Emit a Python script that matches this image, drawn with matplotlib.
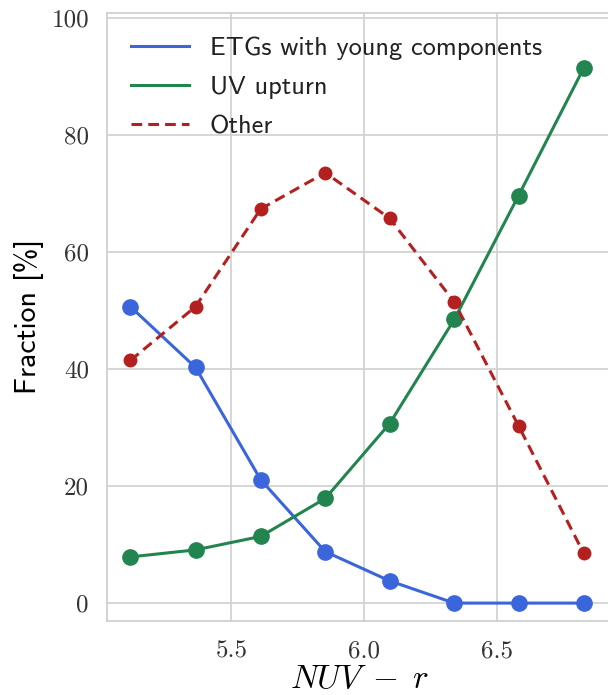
import matplotlib
matplotlib.use("Agg")
import matplotlib.pyplot as plt
from matplotlib.ticker import FuncFormatter
from matplotlib.lines import Line2D

x = [5.12, 5.365, 5.61, 5.853, 6.095, 6.338, 6.58, 6.825]
young = [50.7, 40.3, 21.1, 8.8, 3.8, 0.0, 0.0, 0.0]
upturn = [7.9, 9.1, 11.4, 17.9, 30.7, 48.5, 69.7, 91.5]
other = [41.5, 50.7, 67.4, 73.6, 65.8, 51.5, 30.3, 8.5]
labels = ["ETGs with young components", "UV upturn", "Other"]
xticks = [5.5, 6.0, 6.5]
yticks = [0, 20, 40, 60, 80, 100]

plt.rcParams['mathtext.fontset'] = 'cm'
plt.rcParams['axes.unicode_minus'] = False

fig = plt.figure(figsize=(6.08, 6.95), dpi=100)
ax = fig.add_axes([0.176, 0.107, 0.83, 0.875])

l1, = ax.plot(x, young, '-', color='#3b66db', lw=2.2, marker='o', ms=11, label=labels[0])
l2, = ax.plot(x, upturn, '-', color='#22854f', lw=2.2, marker='o', ms=11, label=labels[1])
l3, = ax.plot(x, other, '--', color='#b3201f', lw=2.2, marker='o', ms=9, label=labels[2], dashes=(3.5, 2))

ax.set_xlim(5.032, 6.93)
ax.set_ylim(-3, 101)
ax.set_xticks(xticks)
ax.set_yticks(yticks)
ax.xaxis.set_major_formatter(FuncFormatter(lambda v, p: f"{v:.1f}"))
ax.yaxis.set_major_formatter(FuncFormatter(lambda v, p: f"{v:.0f}"))
for lab in ax.get_xticklabels() + ax.get_yticklabels():
    lab.set_fontfamily('cmr10')
    lab.set_fontsize(18)
    lab.set_color('#333333')
ax.tick_params(axis='x', length=0, pad=14)
ax.tick_params(axis='y', length=0, pad=13)

ax.grid(True, color='#d0d0d0', lw=1.2)
ax.set_axisbelow(True)
for s in ax.spines.values():
    s.set_color('#cccccc')
    s.set_linewidth(1.2)

ax.set_xlabel(r'$NUV\;-\;r$', fontsize=24, labelpad=0)
ax.set_ylabel('Fraction [%]', fontsize=21.5, family=['cmss10', 'DejaVu Sans'], labelpad=5)

handles = [Line2D([], [], color=l.get_color(), lw=2.2, ls='-') for l in (l1, l2)]
handles.append(Line2D([], [], color=l3.get_color(), lw=2.2, ls='--', dashes=(3.5, 2)))
leg = ax.legend(handles, labels, loc='upper left', frameon=False,
                prop={'family': ['cmss10', 'DejaVu Sans'], 'size': 19},
                handlelength=2.2, handletextpad=0.8, labelspacing=0.6, borderaxespad=0.5)
for t in leg.get_texts():
    t.set_color('#222222')

fig.savefig('out.png', dpi=100)
